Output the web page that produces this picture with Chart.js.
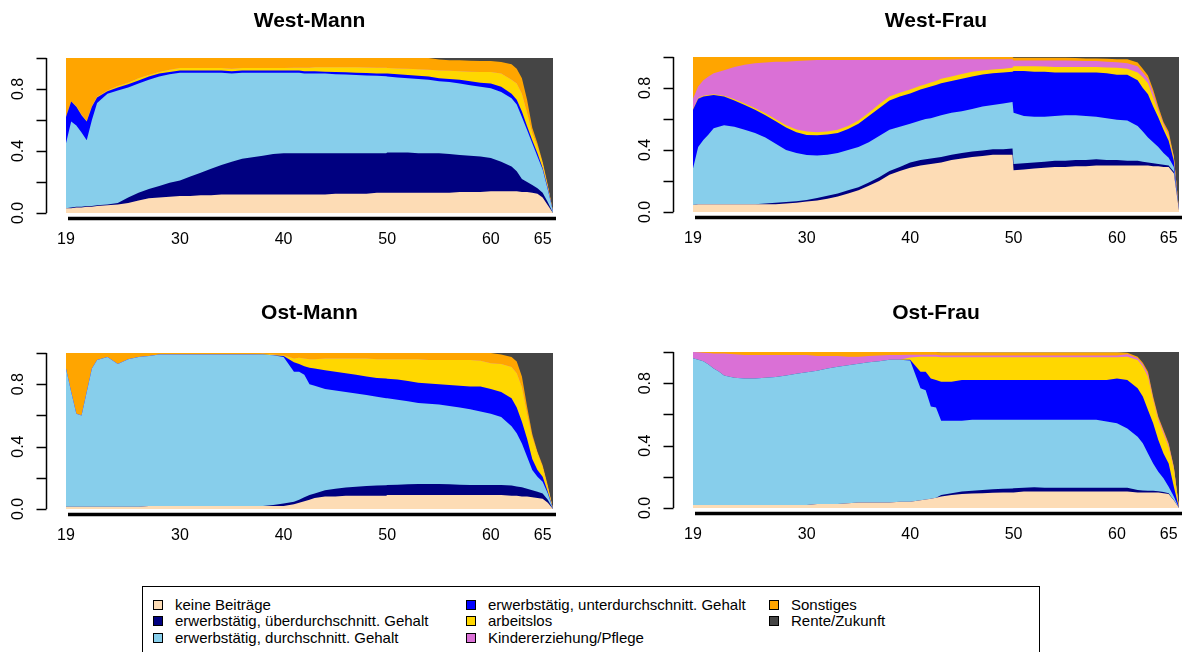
<!DOCTYPE html>
<html><head><meta charset="utf-8">
<script src="https://cdn.jsdelivr.net/npm/chart.js@4.4.1/dist/chart.umd.min.js"></script>
<style>
body{margin:0;background:#fff;width:1191px;height:652px;overflow:hidden;position:relative;font-family:"Liberation Sans",Arial,sans-serif}
canvas{position:absolute}
.title{position:absolute;font-weight:bold;font-size:21px;line-height:21px;transform:translateX(-50%);white-space:nowrap;color:#000}
#legend{position:absolute;left:142px;top:586px;width:898px;height:90px;border:1px solid #000;box-sizing:border-box}
.li{position:absolute;font-size:15px;line-height:15px;white-space:nowrap;color:#000}
.sw{position:absolute;width:8px;height:8px;border:1px solid #000}
</style></head><body>
<canvas id="c0" width="595" height="290" style="left:0;top:0"></canvas>
<canvas id="c1" width="596" height="290" style="left:595px;top:0"></canvas>
<canvas id="c2" width="595" height="290" style="left:0;top:290px"></canvas>
<canvas id="c3" width="596" height="290" style="left:595px;top:290px"></canvas>
<div id="titles"></div>
<div id="legend"></div>
<script>
const ages = [19,19.5,20,20.5,21,21.5,22,23,24,25,26,27,28,29,30,31,32,33,34,35,36,37,38,39,40,41,41.5,42,42.5,43,44,45,46,47,48,49,49.9,50,51,52,53,54,55,56,57,58,59,60,61,62,62.5,63,63.5,64,64.5,65,65.5,66];
const stateLabels = ['keine Beiträge','erwerbstätig, überdurchschnitt. Gehalt','erwerbstätig, durchschnitt. Gehalt','erwerbstätig, unterdurchschnitt. Gehalt','arbeitslos','Kindererziehung/Pflege','Sonstiges','Rente/Zukunft'];
const stateColors = ['#FDDCB5','#000080','#87CEEB','#0000FF','#FFD700','#DA70D6','#FFA500','#454545'];
const panelTitles = ['West-Mann','West-Frau','Ost-Mann','Ost-Frau'];
const xTickValues = [19,30,40,50,60,65];
const yTickValues = [0,0.2,0.4,0.6,0.8,1];
const yLabelValues = [0,0.4,0.8];

// West-Mann
const wmKeine = [.03,.03,.035,.035,.04,.04,.045,.05,.055,.065, .08,.095,.10,.105,.11,.11,.115,.115,.12,.12, .12,.12,.12,.12,.12,.12,.12,.12,.12,.12, .12,.125,.125,.125,.125,.13,.13,.13,.13,.13, .13,.13,.13,.13,.135,.135,.135,.14,.14,.14, .14,.135,.135,.13,.125,.10,.05,0];
const wmUeber = [0,.005,.005,.005,.005,.005,.005,.005,.01,.035, .05,.06,.075,.09,.10,.125,.145,.17,.19,.21, .23,.24,.25,.26,.265,.265,.265,.265,.265,.265, .265,.26,.26,.26,.26,.255,.255,.26,.26,.26, .255,.255,.255,.25,.24,.235,.23,.215,.19,.16, .13,.085,.065,.05,.035,.03,.02,0];
const wmDurch = [.42,.555,.525,.48,.425,.555,.66,.715,.725,.71, .705,.705,.705,.70,.695,.67,.645,.62,.595,.57, .555,.545,.535,.525,.52,.52,.52,.515,.515,.515, .515,.51,.508,.505,.502,.50,.498,.49,.485,.48, .48,.475,.465,.465,.46,.455,.45,.45,.45,.44, .43,.40,.335,.27,.205,.15,.08,.01];
const wmUnter = [.17,.13,.12,.11,.12,.085,.035,.015,.02,.02, .02,.02,.02,.015,.015,.015,.015,.015,.015,.015, .015,.015,.015,.015,.015,.015,.015,.015,.015,.015, .012,.015,.015,.015,.016,.015,.017,.02,.02,.02, .02,.02,.02,.02,.025,.025,.025,.03,.035,.03, .03,.035,.025,.02,.02,.01,.01,0];
const wmArbeit = [0,0,.005,.005,.005,.005,.005,.005,.01,.01, .015,.01,.01,.015,.015,.015,.015,.015,.015,.015, .015,.015,.015,.015,.015,.017,.017,.022,.022,.025, .028,.03,.032,.035,.035,.037,.037,.035,.037,.04, .042,.045,.05,.053,.055,.062,.07,.075,.085,.09, .105,.115,.085,.045,.045,.03,.01,0];
const wmKind = [0,0,0,0,0,0,0,0,0,0, 0,0,0,0,0,0,0,0,0,0, 0,0,0,0,0,0,0,0,0,0, 0,0,0,0,0,0,0,0,0,0, 0,0,0,0,0,0,0,0,0,0, 0,0,0,0,0,0,0,0];
const wmSonst = [.38,.28,.31,.365,.405,.31,.25,.21,.18,.16, .13,.11,.09,.075,.065,.065,.065,.065,.065,.07, .065,.065,.065,.065,.065,.063,.063,.063,.063,.06, .06,.06,.06,.06,.062,.063,.063,.065,.068,.07, .073,.075,.07,.067,.07,.07,.07,.07,.075,.10, .095,.10,.085,.035,.02,.01,.01,0];
const wmRente = [0,0,0,0,0,0,0,0,0,0, 0,0,0,0,0,0,0,0,0,0, 0,0,0,0,0,0,0,0,0,0, 0,0,0,0,0,0,0,0,0,0, 0,0,.01,.015,.015,.018,.02,.02,.025,.04, .07,.13,.27,.45,.55,.67,.82,.99];

// West-Frau
const wfKeine = [.045,.05,.05,.05,.05,.05,.05,.05,.05,.05, .05,.05,.055,.06,.067,.075,.085,.10,.12,.14, .17,.20,.24,.265,.285,.30,.305,.31,.315,.32, .335,.345,.355,.362,.37,.37,.37,.27,.275,.28, .285,.29,.29,.295,.295,.30,.30,.30,.30,.30, .30,.30,.295,.295,.29,.29,.25,.01];
const wfUeber = [0,0,0,0,0,0,0,0,0,0, .005,.01,.01,.01,.01,.015,.02,.02,.02,.02, .02,.025,.025,.025,.035,.035,.035,.035,.035,.035, .035,.035,.035,.035,.035,.035,.04,.04,.04,.04, .04,.04,.04,.04,.04,.04,.035,.035,.03,.03, .025,.02,.02,.015,.015,.01,.01,0];
const wfDurch = [.235,.37,.415,.45,.49,.50,.51,.50,.48,.46, .425,.38,.335,.31,.29,.275,.265,.26,.26,.26, .26,.265,.265,.26,.25,.255,.26,.26,.265,.27, .27,.27,.275,.283,.285,.295,.30,.33,.305,.295, .29,.29,.295,.29,.285,.275,.27,.26,.26,.225, .195,.16,.135,.11,.075,.05,.03,0];
const wfUnter = [.38,.31,.28,.25,.215,.20,.185,.17,.16,.15, .145,.145,.145,.135,.13,.13,.13,.13,.135,.15, .17,.18,.19,.195,.195,.20,.20,.205,.205,.205, .205,.21,.21,.207,.205,.20,.195,.27,.29,.29, .29,.28,.275,.275,.28,.285,.29,.29,.295,.295, .28,.28,.23,.19,.15,.11,.04,0];
const wfArbeit = [.005,.005,.005,.005,.005,.005,.005,.007,.01,.01, .012,.013,.015,.017,.023,.02,.02,.02,.02,.02, .02,.025,.025,.025,.025,.025,.025,.025,.025,.03, .03,.03,.03,.026,.025,.025,.025,.03,.03,.035, .033,.035,.035,.035,.035,.035,.037,.045,.04,.05, .07,.07,.06,.04,.03,.03,.02,0];
const wfKind = [.065,.075,.10,.12,.135,.15,.165,.208,.25,.29, .328,.372,.41,.443,.458,.465,.46,.45,.425,.39, .34,.285,.235,.21,.19,.165,.155,.145,.137,.122, .109,.095,.08,.072,.065,.06,.055,.037,.037,.037, .039,.042,.042,.041,.04,.04,.038,.036,.035,.04, .03,.03,.03,.01,.01,.01,.005,0];
const wfSonst = [.27,.19,.15,.125,.105,.095,.085,.065,.05,.04, .035,.03,.03,.025,.022,.02,.02,.02,.02,.02, .02,.02,.02,.02,.02,.02,.02,.02,.018,.018, .016,.015,.015,.015,.015,.015,.015,.018,.018,.018, .018,.018,.018,.017,.015,.015,.018,.019,.025,.025, .025,.02,.02,.02,.01,.02,.005,0];
const wfRente = [0,0,0,0,0,0,0,0,0,0, 0,0,0,0,0,0,0,0,0,0, 0,0,0,0,0,0,0,0,0,0, 0,0,0,0,0,0,0,.005,.005,.005, .005,.005,.005,.007,.01,.01,.012,.015,.015,.035, .075,.12,.21,.32,.42,.48,.64,.99];

// Ost-Mann
const omKeine = [.015,.015,.015,.015,.015,.015,.015,.015,.015,.015, .015,.02,.02,.02,.02,.02,.02,.02,.02,.02, .02,.02,.02,.02,.02,.03,.04,.05,.06,.07, .08,.08,.085,.085,.085,.085,.085,.09,.09,.09, .09,.09,.09,.09,.09,.09,.09,.09,.09,.085, .085,.08,.08,.075,.07,.065,.04,0];
const omUeber = [0,0,0,0,0,0,0,0,0,0, 0,0,0,0,0,0,0,0,0,0, 0,0,0,.005,.015,.017,.02,.025,.03,.03, .04,.05,.053,.058,.062,.065,.067,.064,.066,.068, .07,.07,.07,.068,.066,.064,.064,.064,.064,.065, .06,.06,.05,.045,.04,.035,.02,0];
const omDurch = [.885,.735,.595,.585,.735,.885,.94,.96,.915,.945, .96,.96,.97,.97,.97,.97,.97,.97,.97,.97, .97,.97,.97,.96,.94,.833,.82,.785,.71,.69, .65,.63,.612,.597,.583,.57,.558,.556,.544,.532, .52,.515,.51,.502,.494,.486,.471,.456,.436,.38, .34,.28,.205,.13,.097,.075,.04,0];
const omUnter = [0,0,0,0,0,0,0,0,0,0, 0,0,0,0,0,0,0,0,0,0, 0,0,0,0,.005,.06,.05,.055,.105,.11, .12,.12,.12,.12,.12,.12,.127,.125,.13,.13, .13,.13,.13,.135,.14,.145,.16,.16,.16,.18, .165,.14,.115,.07,.043,.032,.01,0];
const omArbeit = [0,0,0,0,0,0,0,0,0,0, 0,0,0,0,0,0,0,0,0,0, 0,0,.005,.005,.005,.025,.04,.05,.055,.06, .075,.085,.095,.105,.115,.12,.123,.125,.13,.14, .15,.15,.155,.16,.165,.17,.165,.164,.18,.20, .22,.22,.16,.14,.107,.063,.03,0];
const omKind = [0,0,0,0,0,0,0,0,0,0, 0,0,0,0,0,0,0,0,0,0, 0,0,0,0,0,0,0,0,0,0, 0,0,0,0,0,0,0,0,0,0, 0,0,0,0,0,0,0,0,0,0, 0,0,0,0,0,0,0,0];
const omSonst = [.10,.25,.39,.40,.25,.10,.045,.025,.07,.04, .025,.02,.01,.01,.01,.01,.01,.01,.01,.01, .01,.01,.005,.01,.015,.035,.03,.035,.04,.04, .035,.035,.035,.035,.035,.04,.04,.04,.04,.04, .04,.045,.045,.045,.045,.045,.05,.066,.06,.065, .075,.07,.045,.02,.01,.01,.01,0];
const omRente = [0,0,0,0,0,0,0,0,0,0, 0,0,0,0,0,0,0,0,0,0, 0,0,0,0,0,0,0,0,0,0, 0,0,0,0,0,0,0,0,0,0, 0,0,0,0,0,0,0,0,.01,.025, .055,.15,.345,.52,.633,.72,.85,1];

// Ost-Frau
const ofKeine = [.02,.02,.02,.02,.02,.02,.02,.02,.02,.02, .02,.02,.02,.02,.02,.025,.025,.025,.03,.035, .035,.035,.035,.04,.04,.05,.055,.06,.065,.073, .083,.09,.093,.095,.098,.10,.10,.10,.105,.105, .105,.105,.105,.105,.105,.105,.105,.105,.105,.10, .10,.10,.10,.10,.095,.09,.05,0];
const ofUeber = [0,0,0,0,0,0,0,0,0,0, 0,0,0,0,0,0,0,0,0,0, 0,0,0,0,0,0,0,0,0,.01, .011,.015,.017,.02,.022,.023,.025,.026,.025,.028, .025,.025,.025,.025,.025,.025,.025,.025,.025,.015, .012,.01,.01,.008,.007,.005,.002,0];
const ofDurch = [.94,.93,.92,.90,.875,.855,.83,.815,.81,.81, .815,.82,.83,.84,.85,.855,.87,.88,.885,.89, .90,.905,.915,.91,.905,.717,.70,.59,.58,.477, .466,.455,.455,.45,.445,.442,.44,.439,.435,.432, .435,.435,.435,.435,.435,.435,.425,.413,.38,.342, .303,.24,.176,.125,.088,.042,.021,0];
const ofUnter = [0,0,0,0,0,0,0,0,0,0, 0,0,0,0,0,0,0,0,0,0, 0,0,0,0,.005,.107,.119,.18,.175,.25, .25,.26,.255,.255,.255,.255,.255,.255,.255,.255, .255,.255,.255,.255,.255,.255,.265,.287,.31,.31, .30,.278,.257,.203,.16,.149,.064,0];
const ofArbeit = [0,0,0,0,0,0,0,0,0,0, 0,0,0,0,0,0,0,0,0,0, 0,0,0,0,.015,.096,.096,.14,.15,.156, .156,.146,.146,.146,.146,.146,.146,.146,.146,.146, .146,.146,.146,.146,.146,.146,.146,.136,.15,.181, .192,.214,.149,.128,.128,.107,.117,0];
const ofKind = [.04,.048,.055,.073,.095,.115,.14,.15,.15,.15, .145,.14,.13,.12,.11,.095,.08,.07,.055,.045, .04,.038,.03,.03,.017,.012,.012,.012,.012,.012, .012,.012,.012,.012,.012,.012,.012,.012,.012,.012, .012,.012,.012,.012,.012,.012,.012,.012,.015,.012, .014,.018,.008,.011,.012,.012,.008,0];
const ofSonst = [0,.002,.005,.007,.01,.01,.01,.015,.02,.02, .02,.02,.02,.02,.02,.025,.025,.025,.03,.03, .025,.022,.02,.02,.018,.018,.018,.018,.018,.018, .018,.018,.018,.018,.018,.018,.018,.018,.018,.018, .018,.018,.018,.018,.018,.018,.018,.018,.01,.01, .01,.014,.014,.01,.01,.01,.003,0];
const ofRente = [0,0,0,0,0,0,0,0,0,0, 0,0,0,0,0,0,0,0,0,0, 0,0,0,0,0,0,0,0,0,0, 0,0,0,0,0,0,0,0,0,0, 0,0,0,0,0,0,0,0,.005,.03, .07,.126,.286,.415,.50,.585,.735,1];

const panelSeries = [
  [wmKeine, wmUeber, wmDurch, wmUnter, wmArbeit, wmKind, wmSonst, wmRente],
  [wfKeine, wfUeber, wfDurch, wfUnter, wfArbeit, wfKind, wfSonst, wfRente],
  [omKeine, omUeber, omDurch, omUnter, omArbeit, omKind, omSonst, omRente],
  [ofKeine, ofUeber, ofDurch, ofUnter, ofArbeit, ofKind, ofSonst, ofRente]
];

// layout (canvas offsets and chart-area paddings)
const canvasPos = [[0,0],[595,0],[0,290],[595,290]];
const paddings = [
  {left:66, top:58, right:42, bottom:77},
  {left:98, top:57, right:12, bottom:78},
  {left:66, top:63, right:42, bottom:71},
  {left:98, top:62, right:12, bottom:72}
];

const axesPlugin = {
  id: 'rStyleAxes',
  afterDraw(chart) {
    const {ctx, chartArea: a, scales} = chart;
    const x = scales.x, y = scales.y;
    ctx.save();
    ctx.strokeStyle = '#000';
    ctx.fillStyle = '#000';
    const ax = a.left - 19.5;
    ctx.lineWidth = 1.5;
    ctx.beginPath();
    ctx.moveTo(ax, y.getPixelForValue(0));
    ctx.lineTo(ax, y.getPixelForValue(1));
    ctx.stroke();
    yTickValues.forEach(v => {
      const py = Math.round(y.getPixelForValue(v)) + 0.5;
      ctx.beginPath(); ctx.moveTo(ax, py); ctx.lineTo(ax - 10, py); ctx.stroke();
    });
    ctx.font = '16px "Liberation Sans", Arial, sans-serif';
    ctx.textAlign = 'center';
    ctx.textBaseline = 'middle';
    yLabelValues.forEach(v => {
      const py = y.getPixelForValue(v);
      ctx.save();
      ctx.translate(ax - 29, py);
      ctx.rotate(-Math.PI / 2);
      ctx.fillText(v.toFixed(1), 0, 1);
      ctx.restore();
    });
    ctx.lineWidth = 3.5;
    const by = a.bottom + 5.5;
    ctx.beginPath();
    ctx.moveTo(a.left + 2, by);
    ctx.lineTo(a.right + 3, by);
    ctx.stroke();
    xTickValues.forEach(v => {
      ctx.fillText(String(v), x.getPixelForValue(v), a.bottom + 27);
    });
    ctx.restore();
  }
};

panelSeries.forEach((series, p) => {
  new Chart(document.getElementById('c' + p), {
    type: 'line',
    data: {
      datasets: series.map((vals, i) => ({
        label: stateLabels[i],
        data: ages.map((a, j) => ({x: a, y: vals[j]})),
        backgroundColor: stateColors[i],
        borderColor: stateColors[i],
        borderWidth: 0,
        pointRadius: 0,
        fill: 'origin',
        tension: 0
      }))
    },
    options: {
      responsive: false,
      animation: false,
      devicePixelRatio: 1,
      events: [],
      layout: {padding: paddings[p]},
      plugins: {
        legend: {display: false},
        tooltip: {enabled: false},
        filler: {drawTime: 'beforeDatasetsDraw'}
      },
      scales: {
        x: {type: 'linear', min: 19, max: 66, display: false},
        y: {stacked: true, min: 0, max: 1, display: false}
      }
    },
    plugins: [axesPlugin]
  });
  // title centred over the plot
  const pad = paddings[p];
  const cw = p % 2 === 0 ? 595 : 596;
  const cx = canvasPos[p][0] + pad.left + (cw - pad.left - pad.right) / 2;
  const t = document.createElement('div');
  t.className = 'title';
  t.textContent = panelTitles[p];
  t.style.left = cx + 'px';
  t.style.top = (canvasPos[p][1] + (p < 2 ? 9 : 11)) + 'px';
  document.getElementById('titles').appendChild(t);
});

// legend
const legendCols = [[0,1,2],[3,4,5],[6,7]];
const colX = [15, 328, 631];
const rowY = [18, 34, 51];
const leg = document.getElementById('legend');
legendCols.forEach((col, c) => {
  col.forEach((si, r) => {
    const sw = document.createElement('div');
    sw.className = 'sw';
    sw.style.left = (colX[c] - 5) + 'px';
    sw.style.top = (rowY[r] - 5) + 'px';
    sw.style.background = stateColors[si];
    leg.appendChild(sw);
    const tx = document.createElement('div');
    tx.className = 'li';
    tx.textContent = stateLabels[si];
    tx.style.left = (colX[c] + 17) + 'px';
    tx.style.top = (rowY[r] - 8) + 'px';
    leg.appendChild(tx);
  });
});
</script>
</body></html>
